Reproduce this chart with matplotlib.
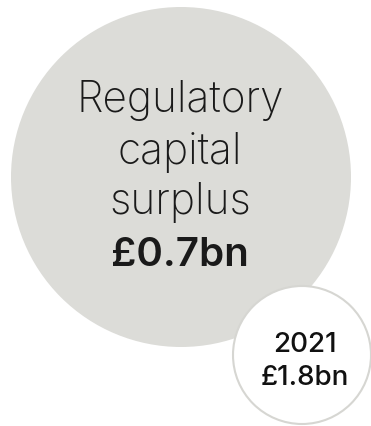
import matplotlib.pyplot as plt
from matplotlib.patches import Circle

# surplus figures
label_lines = ["Regulatory", "capital", "surplus"]
current_value = 0.7
prior_year = "2021"
prior_value = 1.8

fig = plt.figure(figsize=(3.71, 4.26), dpi=100)
ax = fig.add_axes([0, 0, 1, 1])
ax.set_xlim(0, 371)
ax.set_ylim(426, 0)
ax.set_aspect('equal')
ax.axis('off')

# big bubble
ax.add_patch(Circle((181, 177), 170, facecolor='#dcdcd8', edgecolor='none'))
# small bubble for the prior year
ax.add_patch(Circle((302, 355), 69, facecolor='white', edgecolor='#d6d6d2', linewidth=1.5))

baselines = [112, 164, 214]
for txt, y in zip(label_lines, baselines):
    ax.text(180, y, txt, ha='center', va='baseline', fontsize=30.5,
            family='Inter', fontweight='light', color='#1a1a1a')
ax.text(180, 266, '£%.1fbn' % current_value, ha='center', va='baseline',
        fontsize=29, family='Inter', fontweight='semibold', color='#1a1a1a')

ax.text(305, 352, prior_year, ha='center', va='baseline', fontsize=20,
        family='Inter', fontweight='medium', color='#111111')
ax.text(305, 385, '£%.1fbn' % prior_value, ha='center', va='baseline', fontsize=20,
        family='Inter', fontweight='medium', color='#111111')

fig.savefig('out.png', dpi=100)
